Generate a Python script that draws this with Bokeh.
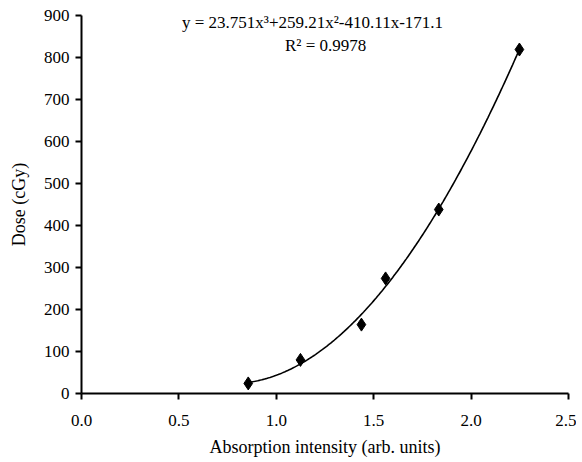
import numpy as np
from bokeh.plotting import figure
from bokeh.models import Range1d, Label, FixedTicker
from bokeh.embed import file_html
from bokeh.resources import INLINE

# data
absorption = [0.856, 1.124, 1.437, 1.561, 1.834, 2.248]
dose = [24, 80, 164, 274, 438, 819]
x_ticks = [0.0, 0.5, 1.0, 1.5, 2.0, 2.5]
y_ticks = [0, 100, 200, 300, 400, 500, 600, 700, 800, 900]
equation_text = "y = 23.751x³+259.21x²-410.11x-171.1"
r2_text = "R² = 0.9978"

FONT = "Liberation Serif"

p = figure(frame_width=487, frame_height=378, output_backend="svg", toolbar_location=None,
           x_range=Range1d(0, 2.5), y_range=Range1d(0, 900),
           min_border_left=81, min_border_right=8, min_border_top=15, min_border_bottom=68)
p.outline_line_color = None
p.xgrid.visible = False
p.ygrid.visible = False
p.background_fill_color = "white"
p.border_fill_color = "white"

# cubic trendline fitted to the data points
coef = np.polyfit(absorption, dose, 3)
xs = np.linspace(min(absorption), max(absorption), 200)
ys = np.polyval(coef, xs)
p.line(xs, ys, line_color="black", line_width=1.6)

p.scatter(absorption, dose, marker="diamond", size=13, fill_color="black", line_color="black")

for ax in (p.xaxis[0], p.yaxis[0]):
    ax.axis_line_width = 2
    ax.axis_line_color = "black"
    ax.major_tick_line_width = 2
    ax.major_tick_line_color = "black"
    ax.major_tick_in = 0
    ax.major_tick_out = 6
    ax.minor_tick_line_color = None
    ax.major_label_text_font = FONT
    ax.major_label_text_font_size = "17px"
    ax.major_label_text_color = "black"
    ax.axis_label_text_font = FONT
    ax.axis_label_text_font_size = "18px"
    ax.axis_label_text_font_style = "normal"
    ax.axis_label_text_color = "black"

p.xaxis.ticker = FixedTicker(ticks=x_ticks)
p.yaxis.ticker = FixedTicker(ticks=y_ticks)
p.xaxis.major_label_overrides = {t: f"{t:.1f}" for t in x_ticks}
p.xaxis.major_label_standoff = 15
p.yaxis.major_label_standoff = 6
p.xaxis.axis_label = "Absorption intensity (arb. units)"
p.yaxis.axis_label = "Dose (cGy)"
p.xaxis.axis_label_standoff = 8
p.yaxis.axis_label_standoff = 12

p.add_layout(Label(x=1.186, y=883, text=equation_text, text_font=FONT, text_font_size="17px",
                   text_align="center", text_baseline="middle", text_color="black"))
p.add_layout(Label(x=1.253, y=829, text=r2_text, text_font=FONT, text_font_size="17px",
                   text_align="center", text_baseline="middle", text_color="black"))

open("out.html", "w").write(file_html(p, INLINE))
